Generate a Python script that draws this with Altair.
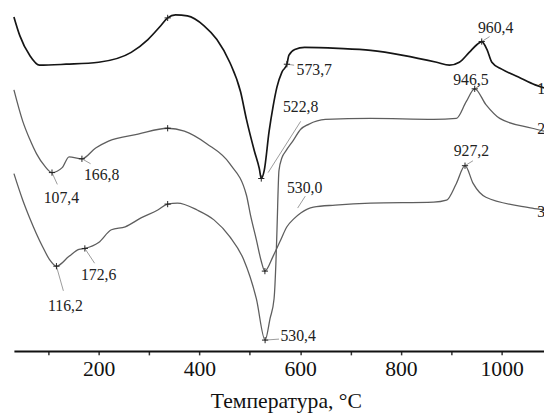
import altair as alt
import pandas as pd

# ---- curve 1 (top, black) ----
temp_1 = [31.8, 43.5, 63.1, 82.6, 135.5, 200, 264.6, 297.8, 323.2, 337, 352.6, 376.1, 409.3, 434.7,
          460.2, 481.7, 493.4, 509.1, 518.9, 522.8, 528.6, 538.4, 546.2, 554, 563.8, 573.7, 577.5,
          589.3, 608.8, 675.3, 740, 804.4, 870.9, 896.4, 915.9, 935.5, 951.1, 960.4, 970.7, 980.5,
          1000, 1033.3, 1066.5, 1084]
sig_1 = [339, 320, 300, 290, 291, 293, 303, 316, 330, 338, 341, 340, 330, 316,
         293, 263, 235, 203, 185, 175, 183, 223, 248, 268, 283, 291, 300,
         306, 308, 307, 305, 300, 293, 290, 293, 303, 311, 314, 306, 293,
         286, 278, 270, 267]

# ---- curve 2 (middle start, ends as "3") ----
temp_2 = [31.8, 49.4, 63.1, 76.8, 92.4, 107.4, 127.6, 141.3, 166.8, 194.1, 219.6, 278.2, 337, 370.2,
          415.2, 460.2, 493.4, 501.3, 513, 522.8, 530.0, 546.2, 559.9, 573.7, 587.3, 601.1, 626.4,
          669.5, 740, 865, 890.5, 910.1, 927.2, 943.3, 968.7, 1060.6, 1084]
sig_2 = [265, 233, 215, 200, 188, 181, 186, 197, 195, 206, 213, 220, 226, 223,
         210, 190, 158, 138, 113, 91, 81, 96, 111, 126, 134, 140, 146,
         148, 150, 151, 153, 170, 188, 170, 156, 145, 143]

# ---- curve 3 (bottom start, ends as "2") ----
temp_3 = [31.8, 49.4, 63.1, 88.5, 102.2, 116.2, 141.3, 160.9, 172.6, 200, 225.4, 252.8, 284.1, 317.4,
          337, 356.5, 395.6, 428.9, 460.2, 487.6, 513, 530.4, 540.3, 548.2, 552.1, 554, 557.9,
          563.8, 571.7, 585.4, 601.1, 616.8, 650, 740, 865, 910.1, 929.6, 946.5, 968.7, 996.1,
          1060.6, 1084]
sig_3 = [180, 153, 135, 106, 93, 86, 96, 103, 104, 110, 123, 126, 135, 143,
         149, 150, 143, 133, 116, 93, 53, 11, 33, 53, 93, 123, 183,
         196, 203, 213, 225, 230, 235, 236, 235, 236, 253, 266, 250, 236,
         226, 223]

# ---- marked points ----
mark_t = [337, 522.8, 573.7, 960.4, 107.4, 166.8, 337, 530.0, 927.2, 116.2, 172.6, 337, 530.4, 946.5]
mark_s = [338, 175, 291, 314, 181, 195, 226, 81, 188, 86, 104, 149, 11, 266]

# ---- annotation labels ----
ann_text = ["960,4", "573,7", "946,5", "522,8", "530,0", "927,2", "530,4", "107,4", "166,8", "116,2", "172,6"]
ann_t = [988, 628, 939, 601, 609, 940, 596, 126, 206, 134, 200]
ann_s = [328, 285, 275, 247, 165, 203, 15, 155, 178, 46, 77]

# ---- leader lines ----
lead_t1 = [960.4, 573.7, 946.5, 536.4, 595, 927.2, 530.4, 107.4, 166.8, 116.2, 172.6]
lead_s1 = [314, 291, 266, 181, 145, 188, 11, 181, 195, 86, 104]
lead_t2 = [976, 588, 958, 601, 610, 943, 558, 118, 184, 130, 192]
lead_s2 = [319, 290, 270, 233, 157, 193, 12, 169, 190, 61, 89]

# ---- curve numbers at right ----
num_text = ["1", "2", "3"]
num_t = [1070.5, 1070.5, 1070.5]
num_s = [266, 225, 141]

x_title = "Температура, °C"
x_ticks = [100, 200, 300, 400, 500, 600, 700, 800, 900, 1000]

FONT = "Liberation Serif, Times New Roman, serif"

df1 = pd.DataFrame({"t": temp_1, "s": sig_1})
df2 = pd.DataFrame({"t": temp_2, "s": sig_2, "c": "2"})
df3 = pd.DataFrame({"t": temp_3, "s": sig_3, "c": "3"})
dfg = pd.concat([df2, df3])
dfm = pd.DataFrame({"t": mark_t, "s": mark_s})
dfa = pd.DataFrame({"t": ann_t, "s": ann_s, "txt": ann_text})
dfl = pd.DataFrame({"t": lead_t1, "s": lead_s1, "t2": lead_t2, "s2": lead_s2})
dfn = pd.DataFrame({"t": num_t, "s": num_s, "txt": num_text})

xs = alt.Scale(domain=[31.8, 1084], nice=False, zero=False)
ys = alt.Scale(domain=[0, 345], nice=False, zero=True)

X = alt.X("t:Q", scale=xs, title=x_title,
          axis=alt.Axis(values=x_ticks, format="d",
                        labelExpr="datum.value % 200 == 0 ? datum.label : ''",
                        grid=False, domainColor="#111", domainWidth=2,
                        tickColor="#333", tickSize=4, tickWidth=1.5,
                        labelFont=FONT, labelFontSize=22, labelColor="#111",
                        labelPadding=4,
                        titleFont=FONT, titleFontSize=22, titleFontWeight="normal",
                        titleColor="#111", titleBaseline="alphabetic", titleY=57, titleX=276))
Y = alt.Y("s:Q", scale=ys, axis=None)

line1 = alt.Chart(df1).mark_line(interpolate="monotone", color="#151515", strokeWidth=1.7).encode(x=X, y=Y)
lines23 = alt.Chart(dfg).mark_line(interpolate="monotone", color="#5e5e5e", strokeWidth=1.3).encode(
    x=alt.X("t:Q", scale=xs), y=alt.Y("s:Q", scale=ys), detail="c:N")
leaders = alt.Chart(dfl).mark_rule(color="#9a9a9a", strokeWidth=1).encode(
    x=alt.X("t:Q", scale=xs), y=alt.Y("s:Q", scale=ys), x2="t2:Q", y2="s2:Q")
marks = alt.Chart(dfm).mark_point(shape="M-1,0L1,0M0,-1L0,1", size=40, filled=False,
                                  color="#222", strokeWidth=1, opacity=1).encode(
    x=alt.X("t:Q", scale=xs), y=alt.Y("s:Q", scale=ys))
ann = alt.Chart(dfa).mark_text(font=FONT, fontSize=16, color="#222").encode(
    x=alt.X("t:Q", scale=xs), y=alt.Y("s:Q", scale=ys), text="txt:N")
nums = alt.Chart(dfn).mark_text(font=FONT, fontSize=16, color="#222", align="left").encode(
    x=alt.X("t:Q", scale=xs), y=alt.Y("s:Q", scale=ys), text="txt:N")

chart = alt.layer(line1, lines23, leaders, marks, ann, nums).properties(
    width=538, height=345,
    padding={"left": 6, "top": 0, "right": 0, "bottom": 63},
    autosize=alt.AutoSizeParams(type="none"),
    background="white",
).configure_view(stroke=None)

chart.save("out.html", embed_options={"renderer": "svg", "actions": False})
